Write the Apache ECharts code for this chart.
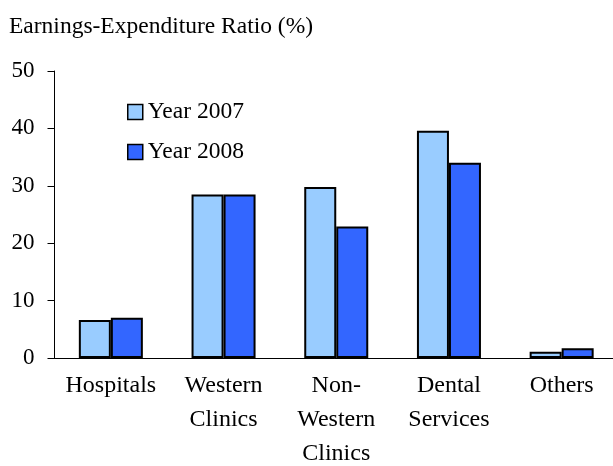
<!DOCTYPE html>
<html>
<head>
<meta charset="utf-8">
<script src="https://cdn.jsdelivr.net/npm/echarts@6/dist/echarts.min.js"></script>
<style>
  html, body { margin: 0; padding: 0; background: #fff; }
  #chart { width: 613px; height: 466px; }
</style>
</head>
<body>
<div id="chart"></div>
<script>
const categories = ['Hospitals', 'Western\nClinics', 'Non-\nWestern\nClinics', 'Dental\nServices', 'Others']
const year2007 = [6.6, 28.5, 29.8, 39.6, 1.1]
const year2008 = [7.0, 28.5, 22.9, 34.0, 1.7]
const yTicks = { min: 0, max: 50, interval: 10 }

const font = 'Liberation Serif'
const chart = echarts.init(document.getElementById('chart'))

const option = {
  backgroundColor: '#fff',
  animation: false,
  title: {
    text: 'Earnings-Expenditure Ratio (%)',
    left: 9,
    top: 15,
    padding: 0,
    textStyle: { fontFamily: font, fontSize: 23.5, fontWeight: 'normal', color: '#000' }
  },
  legend: {
    orient: 'vertical',
    left: 127,
    top: 100,
    padding: 0,
    itemWidth: 15,
    itemHeight: 15,
    itemGap: 16,
    icon: 'rect',
    textStyle: { fontFamily: font, fontSize: 23.5, color: '#000', lineHeight: 23 },
    itemStyle: { borderColor: '#000', borderWidth: 1.5 }
  },
  grid: { left: 54.5, right: -5, top: 71, bottom: 108, outerBoundsMode: 'none' },
  xAxis: {
    type: 'category',
    data: categories,
    axisLine: { lineStyle: { color: '#000', width: 1 } },
    axisTick: { show: false },
    axisLabel: { fontFamily: font, fontSize: 24, color: '#000', margin: 11, lineHeight: 34, interval: 0 }
  },
  yAxis: {
    type: 'value',
    min: yTicks.min,
    max: yTicks.max,
    interval: yTicks.interval,
    splitLine: { show: false },
    axisLine: { show: true, lineStyle: { color: '#000', width: 1 } },
    axisTick: { show: true, length: 7, lineStyle: { color: '#000' } },
    axisLabel: { fontFamily: font, fontSize: 23, color: '#000', margin: 20 }
  },
  series: [
    {
      name: 'Year 2007',
      type: 'bar',
      data: year2007,
      barWidth: '28.4%',
      barGap: '0%',
      itemStyle: { color: '#99CCFF', borderColor: '#000', borderWidth: 2 }
    },
    {
      name: 'Year 2008',
      type: 'bar',
      data: year2008,
      barWidth: '28.4%',
      itemStyle: { color: '#3366FF', borderColor: '#000', borderWidth: 2 }
    }
  ]
}
chart.setOption(option)
</script>
</body>
</html>
